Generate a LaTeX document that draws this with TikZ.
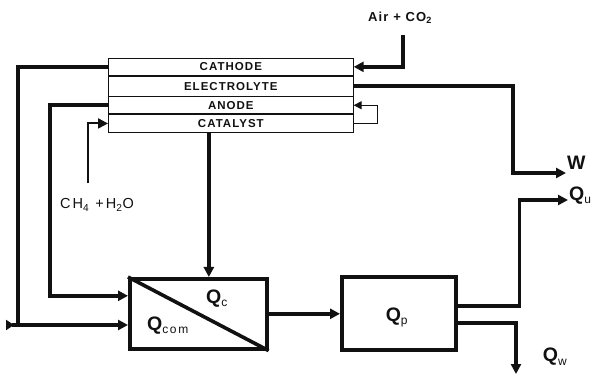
\documentclass[tikz,border=0pt]{standalone}
\usepackage{fontspec}
\setmainfont{Liberation Sans}
\newfontfamily\spacedfont[LetterSpace=14]{Liberation Sans}
\newfontfamily\widefont[LetterSpace=9]{Liberation Sans}
\usepackage{tikz}
\usetikzlibrary{arrows.meta,positioning,calc}
\definecolor{inkblack}{HTML}{111111}
\newcommand\qsub[1]{\textsubscript{\normalfont\spacedfont\fontsize{12}{12}\selectfont #1}}

\begin{document}
\begin{tikzpicture}[x=1pt,y=-1pt,color=inkblack,
  >={Triangle[length=10pt,width=10pt]},
  pipe/.style={line width=3.6pt},
  feedline/.style={line width=2pt},
  loopline/.style={line width=1.4pt},
  layer/.style={draw,line width=0.7pt,minimum width=245pt,inner sep=0pt,
    font=\widefont\bfseries\fontsize{11.5}{12}\selectfont},
  unit/.style={draw,line width=3.6pt,inner sep=0pt},
  qlabel/.style={font=\bfseries\fontsize{19.5}{21}\selectfont,inner sep=1pt}]
\useasboundingbox (0,0) rectangle (606,377);

% cell stack
\node[layer,minimum height=17pt,anchor=north west] (cathode) at (108,58) {CATHODE};
\node[layer,minimum height=20pt,below=0pt of cathode] (electrolyte) {ELECTROLYTE};
\node[layer,minimum height=17pt,below=0pt of electrolyte] (anode) {ANODE};
\node[layer,minimum height=18pt,below=0pt of anode] (catalyst) {CATALYST};

% combustor and heat recovery
\node[unit,minimum width=137pt,minimum height=70pt,anchor=north west] (comb) at (128,277) {};
\draw[pipe] (comb.north west) -- (comb.south east);
\node[qlabel] (qc) at (217,299) {Q\qsub{c}};
\node[qlabel] (qcom) at (168,326) {Q\qsub{com}};
\node[unit,minimum width=114pt,minimum height=73pt,anchor=north west] (proc) at (340,275) {};
\node[qlabel] (qp) at (397,317) {Q\qsub{p}};

% labels
\node[font=\widefont\bfseries\fontsize{13}{14}\selectfont] (air) at (400,18) {Air + CO\textsubscript{2}};
\node[font=\spacedfont\fontsize{14.5}{15}\selectfont] (fuel) at (97,205) {CH\textsubscript{4}\ +H\textsubscript{2}O};
\node[qlabel,anchor=west] (wlab) at (566,163) {W};
\node[qlabel,anchor=west] (qu) at (568,196) {Q\qsub{u}};
\node[qlabel] (qw) at (555,357) {Q\qsub{w}};
\coordinate (corner) at (18,325);
\coordinate (recyc) at (6,325);
\coordinate (qwout) at (516,374);

% streams
\draw[pipe,->] ([xshift=3pt,yshift=-8pt]air.south) |- (cathode.east);
\draw[pipe,->] (electrolyte.east) -- ++(159,0) |- ([yshift=-10pt]wlab.west);
\draw[loopline,-{Triangle[length=8pt,width=8pt]}] (catalyst.east) -- ++(24,0) |- (anode.east);
\draw[feedline,->] ([xshift=-9pt,yshift=12pt]fuel.north) |- (catalyst.west);
\draw[pipe] (cathode.west) -| (corner);
\draw[pipe,{Triangle[reversed,length=8pt,width=10pt]}->] (recyc) -- (recyc -| comb.west);
\draw[pipe,->] (anode.west) -- ++(-58,0) |- ([yshift=18pt]comb.west);
\draw[pipe,->] ([xshift=-22pt]catalyst.south) -- ([xshift=-22pt]catalyst.south |- comb.north);
\draw[pipe,->] (comb.east) -- (proc.west |- comb.east);
\draw[pipe,->] ([yshift=7pt]proc.east) -- ++(62,0) |- ([yshift=-4pt]qu.west);
\draw[pipe,->] ([yshift=-10pt]proc.east) -| (qwout);
\end{tikzpicture}
\end{document}
